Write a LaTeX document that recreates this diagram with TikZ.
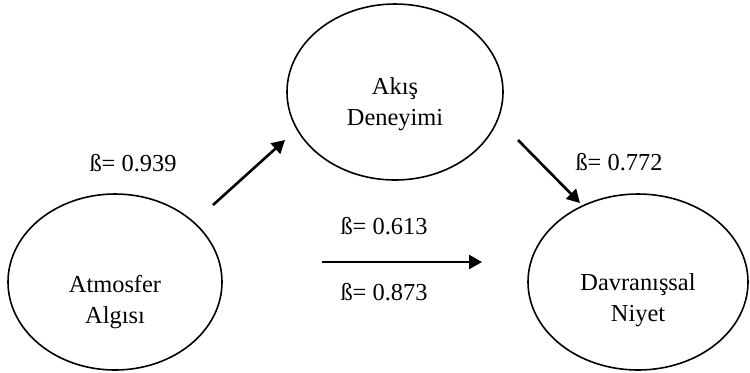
\documentclass[tikz,border=0pt]{standalone}
\usepackage{fontspec}
\setmainfont{Liberation Serif}
\usetikzlibrary{positioning, arrows.meta, shapes.geometric}

\begin{document}
\begin{tikzpicture}[x=0.5pt, y=-0.5pt, font=\fontsize{12.2}{15.5}\selectfont,
        construct/.style={draw, ellipse, line width=0.8pt, inner sep=0pt},
        cname/.style={align=center, inner sep=0pt},
        causal/.style={-{Triangle[length=6.5pt, width=7pt]}, line width=1.3pt},
        coef/.style={inner sep=1pt}]
        \useasboundingbox (0,0) rectangle (750,372);

        % Constructs
        \node[construct, minimum width=107pt, minimum height=88pt] (atm) at (115,282) {};
        \node[construct, minimum width=108pt, minimum height=88pt] (akis) at (395,92) {};
        \node[construct, minimum width=110pt, minimum height=88pt] (niyet) at (638,282) {};

        % Construct names
        \node[cname] (atmname) at ([yshift=-10pt]atm.center) {Atmosfer\\Algısı};
        \node[cname] (akisname) at ([yshift=-6pt]akis.center) {Akış\\Deneyimi};
        \node[cname] (niyetname) at ([yshift=-9pt]niyet.center) {Davranışsal\\Niyet};

        % Arrow ends
        \coordinate (atmout) at (213,205);
        \coordinate (akisin) at (285,140);
        \coordinate (akisout) at (518,140);
        \coordinate (niyetin) at (580,203);
        \coordinate (directout) at (322,262);
        \coordinate (directin) at (482,262);

        % Paths
        \draw[causal] (atmout) -- (akisin);
        \draw[causal] (akisout) -- (niyetin);
        \draw[causal] (directout) -- (directin);

        % Coefficients
        \node[coef] (b1) at (133,163) {ß= 0.939};
        \node[coef] (b2) at (619,162) {ß= 0.772};
        \node[coef] (b3) at (384,226) {ß= 0.613};
        \node[coef] (b4) at (384,292) {ß= 0.873};
    \end{tikzpicture}
\end{document}
